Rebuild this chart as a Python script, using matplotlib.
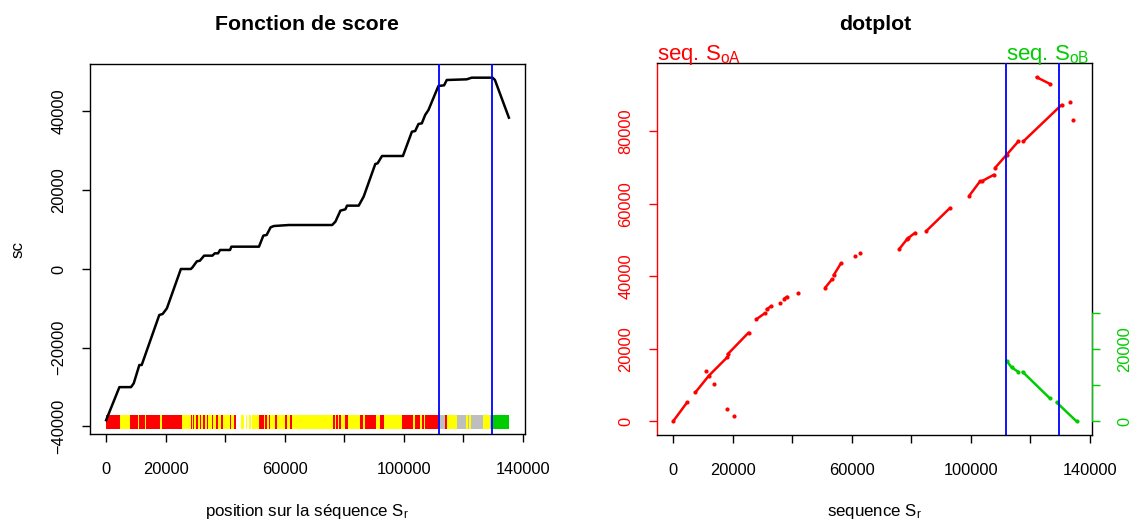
import numpy as np
import matplotlib
matplotlib.use('Agg')
import matplotlib.pyplot as plt
import matplotlib.transforms as mtransforms

plt.rcParams['font.family'] = ['Liberation Sans', 'DejaVu Sans']
plt.rcParams['mathtext.fontset'] = 'custom'
plt.rcParams['mathtext.rm'] = 'Liberation Sans'
plt.rcParams['mathtext.default'] = 'regular'

# score function (left panel)
score_x = [0, 4470, 8370, 9280, 11170, 11960, 17870, 18990, 20430, 25120, 28480,
           29040, 30490, 31500, 32930, 35710, 36520, 37600, 38300, 41640, 42100,
           51370, 52830, 53940, 55280, 56390, 61420, 75940, 77050, 78730, 80400,
           80960, 84870, 86540, 90450, 91230, 92700, 99730, 102750, 103850, 104960,
           106090, 107200, 108310, 111660, 113570, 114460, 121170, 122850, 129880,
           130650, 135340]
score_y = [-38400, -30000, -30000, -29040, -24380, -24380, -11680, -11430, -9980, 0, 0,
           430, 1950, 2100, 3390, 3390, 3980, 3980, 4830, 4830, 5670,
           5670, 8470, 8640, 10590, 10920, 11170, 11170, 12020, 14820, 15160,
           16090, 16090, 18380, 26670, 26840, 28700, 28700, 34870, 35050, 36830,
           37000, 39110, 40380, 46480, 46650, 48000, 48170, 48590, 48590,
           48000, 38430]

# limits of the selected region
cut_lo = 111700
cut_hi = 129800

# colour band under the score curve
band_lo = [0, 4690, 8150, 25350, 28480, 29600, 45230, 51370, 55830, 76270, 78950,
           80400, 81190, 85200, 90790, 91910, 93470, 99380, 103070, 103850, 105530,
           107210, 111670, 113900, 114460, 117810, 126750, 128980, 130100,
           10600, 13000, 18200, 28800,
           30300, 31500, 32700, 33800, 35500, 37000, 38700, 41500, 43100,
           46400, 47500, 48600,
           52900, 54100, 55000,
           56900, 60200, 61800,
           76900, 77900, 86400, 106200, 121000, 122100]
band_hi = [4690, 8150, 25350, 28480, 29600, 43550, 51370, 55830, 76270, 78950, 80400,
           81190, 85200, 90790, 91910, 93470, 99380, 103070, 103850, 105530, 107210,
           111670, 113900, 114460, 117810, 126750, 128980, 130100, 135340,
           11100, 13500, 18700, 29300,
           30800, 32000, 33200, 34300, 36000, 37500, 39200, 42000, 43600,
           46900, 48000, 49100,
           53500, 54700, 55600,
           57400, 60700, 62300,
           77400, 78400, 86900, 106800, 121500, 122600]
band_col = ['r', 'y', 'r', 'y', 'r', 'y', 'y', 'r', 'y', 'r', 'y',
            'r', 'y', 'r', 'y', 'r', 'y', 'r', 'y', 'r', 'y',
            'r', 'g', 'r', 'y', 'g', 'y', 'g', 'v',
            'y', 'y', 'y', 'y',
            'r', 'r', 'r', 'r', 'r', 'r', 'r', 'r', 'r',
            'w', 'w', 'w',
            'y', 'y', 'y',
            'r', 'r', 'r',
            'y', 'y', 'y', 'r', 'y', 'y']
palette = {'r': '#FF0000', 'y': '#FFFF00', 'g': '#BEBEBE', 'v': '#00CD00', 'w': 'white'}

# dotplot: hits against S_oA (red) and S_oB (green), runs separated by nan
nan = np.nan
red_x = [0, 4690, nan, 7480, 11960, 18110, nan, 18330, 25380, nan, 27950, 30760, nan,
         31430, 32990, nan, 35800, nan, 37360, 38260, nan, 41820, nan, 51110, 53350, nan,
         53910, 56370, nan, 61180, nan, 62860, nan, 76050, 78520, nan, 79080, 81310, nan,
         85000, 93060, nan, 99540, 103120, nan, 103680, 107820, nan,
         108150, 112070, 115990, nan, 117660, 130530, nan, 133330, nan, 134450, nan,
         122140, 126620, nan, 10900, nan, 13860, nan, 18000, nan, 20570]
red_y = [0, 5230, nan, 7980, 12560, 17620, nan, 18530, 24500, nan, 28160, 29810, nan,
         30920, 31830, nan, 32570, nan, 33860, 34410, nan, 35320, nan, 36890, 39170, nan,
         40280, 43580, nan, 45590, nan, 46330, nan, 47620, 50190, nan, 50650, 52030, nan,
         52470, 58910, nan, 62300, 66240, nan, 66240, 68080, nan,
         69930, 73590, 77250, nan, 77250, 87350, nan, 88260, nan, 83220, nan,
         94980, 93130, nan, 13850, nan, 10270, nan, 3390, nan, 1540]
green_x = [112070, 113750, 115990, nan, 117440, 126620, nan, 128860, 135560]
green_y = [16680, 14870, 13660, nan, 13660, 6330, nan, 5230, 0]

xticks = [0, 20000, 40000, 60000, 80000, 100000, 120000, 140000]
xticklabels = ['0', '20000', '', '60000', '', '100000', '', '140000']

W, H = 1131, 522
fig = plt.figure(figsize=(W / 100, H / 100), dpi=100)
axl = fig.add_axes([90 / W, 1 - 434 / H, 435 / W, 370 / H])
axr = fig.add_axes([657 / W, 1 - 435 / H, 435 / W, 372 / H])

TICK = 11.8
RED = '#FF0000'
GREEN = '#00CD00'
BLUE = '#0000FF'

def style(ax):
    ax.set_xlim(-5412, 140752)
    ax.set_xticks(xticks)
    ax.set_xticklabels(xticklabels)
    ax.tick_params(length=6, width=1, labelsize=TICK)
    ax.tick_params(axis='x', pad=14)
    ax.tick_params(axis='y', pad=11, labelrotation=90)
    for sp in ax.spines.values():
        sp.set_linewidth(1)

# ---- left: score function
axl.plot(score_x, score_y, color='black', lw=1.8, zorder=3)
for lo, hi, c in zip(band_lo, band_hi, band_col):
    axl.bar(lo, 3600, width=hi - lo, bottom=-40700, align='edge',
            color=palette[c], linewidth=0, antialiased=False, zorder=2)
axl.axvline(cut_lo, color=BLUE, lw=1.3, zorder=4)
axl.axvline(cut_hi, color=BLUE, lw=1.3, zorder=4)
axl.set_ylim(-41905, 52063)
axl.set_yticks([-40000, -20000, 0, 20000, 40000])
style(axl)
axl.set_yticklabels(['\u221240000', '\u221220000', '0', '20000', '40000'], va='center')

# ---- right: dotplot
axr.plot(red_x, red_y, color=RED, lw=1.8, marker='o', ms=3, mew=0,
         solid_capstyle='round', zorder=3)
axr.plot(green_x, green_y, color=GREEN, lw=1.8, marker='o', ms=3, mew=0,
         solid_capstyle='round', zorder=3)
axr.axvline(cut_lo, color=BLUE, lw=1.3, zorder=4)
axr.axvline(cut_hi, color=BLUE, lw=1.3, zorder=4)
axr.set_ylim(-3770, 98900)
axr.set_yticks([0, 20000, 40000, 60000, 80000])
style(axr)
axr.set_yticklabels(['0', '20000', '40000', '60000', '80000'], va='center')
axr.spines['left'].set_color(RED)
axr.tick_params(axis='y', colors=RED)

ax2 = axr.twinx()
ax2.set_ylim(axr.get_ylim())
ax2.set_yticks([0, 10000, 20000, 30000])
ax2.set_yticklabels(['0', '', '20000', ''], va='center')
ax2.tick_params(axis='y', colors=GREEN, length=6, width=1, labelsize=TICK,
                pad=12, labelrotation=90)
ax2.spines['right'].set_color(GREEN)
ax2.spines['right'].set_bounds(0, 30000)
for s in ['left', 'top', 'bottom']:
    ax2.spines[s].set_visible(False)

# titles and labels
fig.text(307 / W, 1 - 30 / H, 'Fonction de score', ha='center', va='baseline',
         fontsize=15.3, fontweight='bold')
fig.text(875 / W, 1 - 30 / H, 'dotplot', ha='center', va='baseline',
         fontsize=15.3, fontweight='bold')
fig.text(18 / W, 1 - 249 / H, 'sc', rotation=90, ha='center', va='center', fontsize=12.2)
fig.text(307 / W, 1 - 516 / H, 'position sur la séquence S$_r$', ha='center',
         va='baseline', fontsize=12.2)
fig.text(875 / W, 1 - 516 / H, 'sequence S$_r$', ha='center', va='baseline', fontsize=12.2)

trans = mtransforms.blended_transform_factory(axr.transData, fig.transFigure)
fig.text(657 / W, 1 - 60 / H, 'seq. S$_{oA}$', color=RED, ha='left', va='baseline',
         fontsize=16)
axr.text(cut_lo, 1 - 60 / H, 'seq. S$_{oB}$', color=GREEN, ha='left', va='baseline',
         fontsize=16, transform=trans)

fig.savefig('out.png', dpi=100)
